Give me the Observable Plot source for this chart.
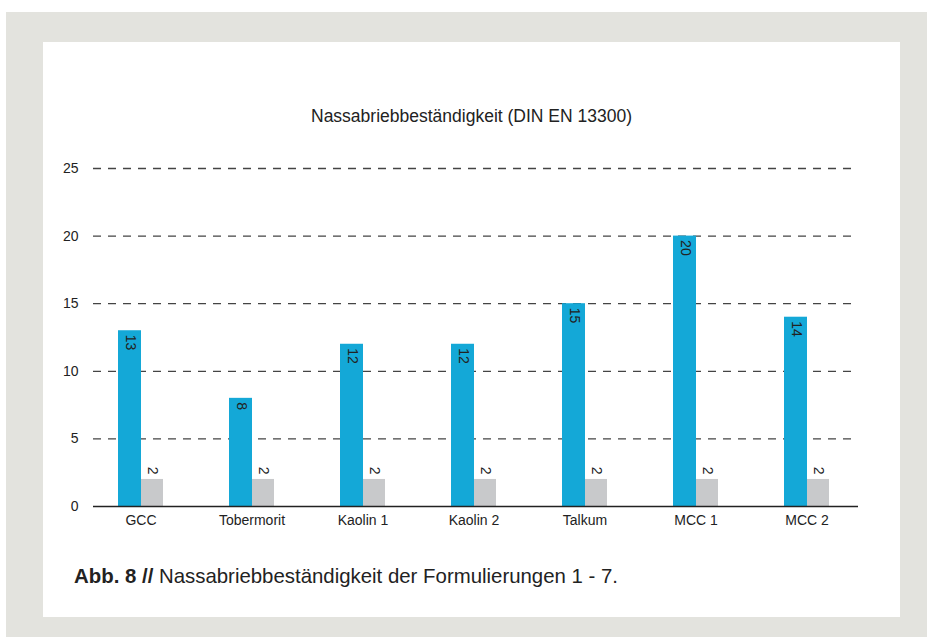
<!DOCTYPE html>
<html>
<head>
<meta charset="utf-8">
<script src="https://cdn.jsdelivr.net/npm/d3@7"></script>
<script src="https://cdn.jsdelivr.net/npm/@observablehq/plot@0.6"></script>
<style>
  html, body { margin: 0; padding: 0; background: #fff; }
  body { width: 927px; height: 637px; position: relative; overflow: hidden;
         font-family: 'Liberation Sans', Arial, sans-serif; color: #222; }
  #bg { position: absolute; left: 6px; top: 12px; width: 921px; height: 625px; background: #e3e3de; }
  #panel { position: absolute; left: 43px; top: 42px; width: 857px; height: 575px; background: #fff; }
  #title { position: absolute; left: 0; top: 64px; width: 857px; text-align: center; font-size: 17.5px; }
  #chart { position: absolute; left: 0; top: 90px; }
  #caption { position: absolute; left: 31px; top: 523px; font-size: 20.4px; white-space: nowrap; }
  #caption b { font-weight: bold; }
</style>
</head>
<body>
<div id="bg"></div>
<div id="panel">
  <div id="title">Nassabriebbeständigkeit (DIN EN 13300)</div>
  <div id="chart"></div>
  <div id="caption"><b>Abb. 8 //</b> Nassabriebbeständigkeit der Formulierungen 1 - 7.</div>
</div>
<script>
const categories = ["GCC", "Tobermorit", "Kaolin 1", "Kaolin 2", "Talkum", "MCC 1", "MCC 2"];
const formulation = [13, 8, 12, 12, 15, 20, 14];
const reference = [2, 2, 2, 2, 2, 2, 2];
const yTicks = [0, 5, 10, 15, 20, 25];

const chart = Plot.plot({
  width: 857,
  height: 410,
  marginLeft: 42,
  marginRight: 38,
  marginTop: 36,
  marginBottom: 36,
  style: { fontFamily: "'Liberation Sans', Arial, sans-serif", fontSize: "14px", color: "#222", background: "transparent" },
  x: { domain: categories, paddingInner: 0.593, paddingOuter: 0.2965, label: null, tickSize: 0, tickPadding: 9 },
  y: { domain: [0, 25], ticks: yTicks, label: null, tickSize: 0, tickPadding: 7 },
  marks: [
    Plot.ruleY(yTicks.filter(d => d > 0), { stroke: "#444", strokeWidth: 1.3, strokeDasharray: "8,7", insetLeft: 8, insetRight: 5 }),
    Plot.barY(formulation, { x: categories, y: formulation, fill: "#14a8d7", insetRight: 22 }),
    Plot.barY(reference, { x: categories, y: reference, fill: "#c8c9cb", insetLeft: 23 }),
    Plot.ruleY([0], { stroke: "#222", strokeWidth: 1.5, insetLeft: 8, insetRight: 4 }),
    Plot.text(formulation, { x: categories, y: formulation, text: formulation.map(String), rotate: 90, textAnchor: "start", dx: -11, dy: 4, fill: "#222", fontSize: 14 }),
    Plot.text(reference, { x: categories, y: reference, text: reference.map(String), rotate: 90, textAnchor: "end", dx: 11.5, dy: -5, fill: "#222", stroke: "white", strokeWidth: 6, fontSize: 14 })
  ]
});
document.getElementById("chart").appendChild(chart);
</script>
</body>
</html>
